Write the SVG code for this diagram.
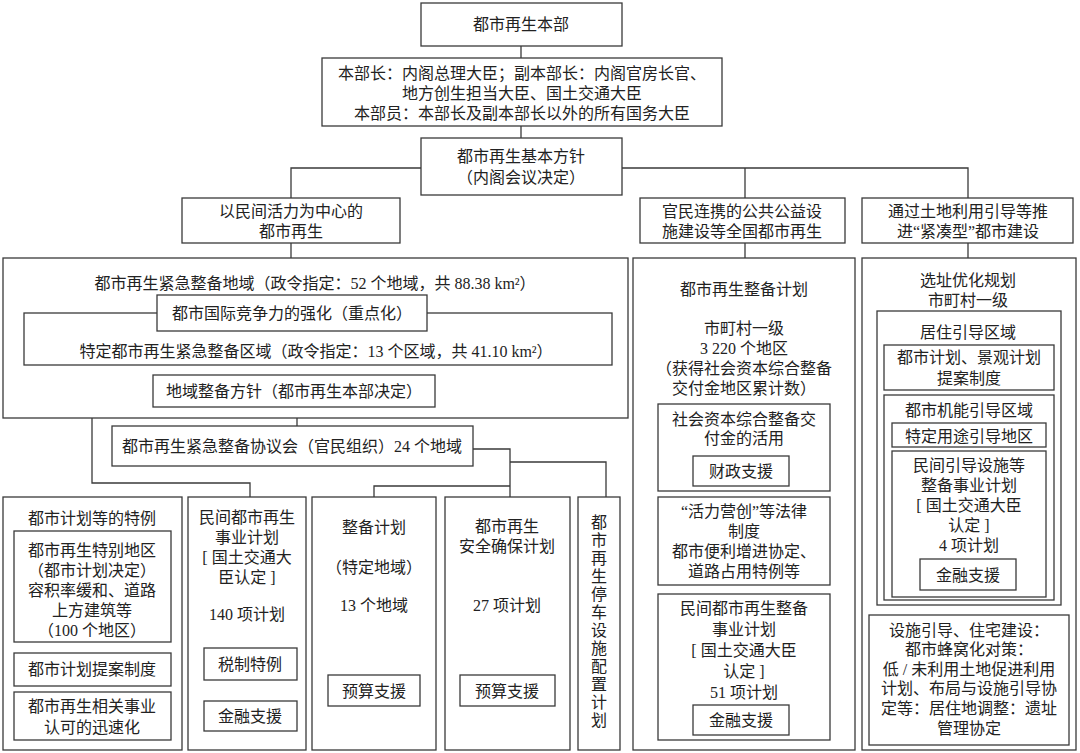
<svg xmlns="http://www.w3.org/2000/svg" width="1080" height="753" viewBox="0 0 1080 753">
<style>
rect{fill:#fff;stroke:#3a3a3a;stroke-width:1.3}
.c line,.c polyline{stroke:#3a3a3a;stroke-width:1.3;fill:none}
text{font-family:"Liberation Serif","Noto Sans CJK SC",serif;font-size:16px;fill:#222;text-anchor:middle}
</style>
<rect x="0" y="0" width="1080" height="753" style="stroke:none"/>
<g class="c" id="connectors">
<line x1="521" y1="46" x2="521" y2="58"/>
<line x1="521" y1="126" x2="521" y2="138"/>
<polyline points="291,198 291,168 421,168"/>
<polyline points="622,168 968,168 968,198"/>
<line x1="745" y1="168" x2="745" y2="198"/>
<line x1="291" y1="243" x2="291" y2="258"/>
<line x1="745" y1="243" x2="745" y2="258"/>
<line x1="968" y1="243" x2="968" y2="258"/>
<line x1="297" y1="407" x2="297" y2="426"/>
<polyline points="92,418 92,483 250,483 250,497"/>
<polyline points="473,449 510,449 510,497"/>
<polyline points="374,497 374,486 510,486"/>
<polyline points="510,462 606,462 606,497"/>
</g>
<g id="n1"><rect x="421" y="3" width="201" height="43"/><text x="521" y="30">都市再生本部</text></g>
<g id="n2"><rect x="322" y="58" width="400" height="68"/>
<text x="522" y="79">本部长：内阁总理大臣；副本部长：内阁官房长官、</text>
<text x="522" y="99">地方创生担当大臣、国土交通大臣</text>
<text x="522" y="119">本部员：本部长及副本部长以外的所有国务大臣</text></g>
<g id="n3"><rect x="421" y="138" width="201" height="57"/><text x="521" y="162">都市再生基本方针</text><text x="521" y="183">（内阁会议决定）</text></g>
<g id="n4"><rect x="182" y="198" width="218" height="45"/><text x="291" y="217">以民间活力为中心的</text><text x="291" y="237">都市再生</text></g>
<g id="n5"><rect x="640" y="198" width="205" height="45"/><text x="742" y="217">官民连携的公共公益设</text><text x="742" y="237">施建设等全国都市再生</text></g>
<g id="n6"><rect x="862" y="198" width="211" height="45"/><text x="968" y="217">通过土地利用引导等推</text><text x="968" y="237">进“紧凑型”都市建设</text></g>

<g id="n7"><rect x="3" y="258" width="625" height="160"/>
<text x="315" y="289">都市再生紧急整备地域（政令指定：52 个地域，共 88.38 km²）</text>
<rect x="24" y="313" width="588" height="52"/>
<rect x="157" y="295" width="270" height="36"/>
<text x="292" y="319">都市国际竞争力的强化（重点化）</text>
<text x="316" y="357">特定都市再生紧急整备区域（政令指定：13 个区域，共 41.10 km²）</text>
<rect x="153" y="375" width="282" height="32"/>
<text x="294" y="397">地域整备方针（都市再生本部决定）</text></g>
<g id="n8"><rect x="112" y="426" width="361" height="40"/><text x="292" y="452">都市再生紧急整备协议会（官民组织）24 个地域</text></g>

<g id="n9"><rect x="3" y="497" width="179" height="253"/>
<text x="92" y="524">都市计划等的特例</text>
<rect x="14" y="531" width="157" height="111"/>
<text x="92" y="556">都市再生特别地区</text><text x="92" y="576">（都市计划决定）</text><text x="92" y="596">容积率缓和、道路</text><text x="92" y="616">上方建筑等</text><text x="92" y="636">（100 个地区）</text>
<rect x="14" y="653" width="157" height="33"/><text x="92" y="675">都市计划提案制度</text>
<rect x="14" y="692" width="157" height="48"/><text x="92" y="712">都市再生相关事业</text><text x="92" y="733">认可的迅速化</text></g>
<g id="n10"><rect x="188" y="497" width="118" height="253"/>
<text x="247" y="523">民间都市再生</text><text x="247" y="543">事业计划</text><text x="247" y="563">[ 国土交通大</text><text x="247" y="583">臣认定 ]</text><text x="247" y="620">140 项计划</text>
<rect x="204" y="648" width="93" height="32"/><text x="250" y="670">税制特例</text>
<rect x="204" y="701" width="93" height="30"/><text x="250" y="722">金融支援</text></g>
<g id="n11"><rect x="312" y="497" width="124" height="253"/>
<text x="374" y="533">整备计划</text><text x="374" y="573">（特定地域）</text><text x="374" y="611">13 个地域</text>
<rect x="328" y="675" width="92" height="31"/><text x="374" y="697">预算支援</text></g>
<g id="n12"><rect x="445" y="497" width="125" height="253"/>
<text x="507" y="532">都市再生</text><text x="507" y="552">安全确保计划</text><text x="507" y="611">27 项计划</text>
<rect x="460" y="675" width="95" height="31"/><text x="507" y="697">预算支援</text></g>
<g id="n13"><rect x="578" y="497" width="42" height="253"/>
<text x="599" y="528">都</text><text x="599" y="546">市</text><text x="599" y="564">再</text><text x="599" y="582">生</text><text x="599" y="600">停</text><text x="599" y="618">车</text><text x="599" y="636">设</text><text x="599" y="654">施</text><text x="599" y="672">配</text><text x="599" y="690">置</text><text x="599" y="708">计</text><text x="599" y="726">划</text></g>

<g id="n14"><rect x="633" y="258" width="222" height="492"/>
<text x="744" y="295">都市再生整备计划</text>
<text x="744" y="334">市町村一级</text><text x="744" y="354">3 220 个地区</text><text x="744" y="374">（获得社会资本综合整备</text><text x="744" y="394">交付金地区累计数）</text>
<rect x="658" y="404" width="172" height="87"/>
<text x="744" y="425">社会资本综合整备交</text><text x="744" y="444">付金的活用</text>
<rect x="693" y="456" width="96" height="30"/><text x="741" y="477">财政支援</text>
<rect x="658" y="497" width="172" height="88"/>
<text x="744" y="517">“活力营创”等法律</text><text x="744" y="537">制度</text><text x="744" y="557">都市便利增进协定、</text><text x="744" y="577">道路占用特例等</text>
<rect x="658" y="594" width="172" height="146"/>
<text x="744" y="614">民间都市再生整备</text><text x="744" y="635">事业计划</text><text x="744" y="656">[ 国土交通大臣</text><text x="744" y="677">认定 ]</text><text x="744" y="698">51 项计划</text>
<rect x="693" y="705" width="96" height="30"/><text x="741" y="726">金融支援</text></g>

<g id="n15"><rect x="862" y="258" width="214" height="492"/>
<text x="968" y="286">选址优化规划</text><text x="968" y="306">市町村一级</text>
<rect x="877" y="311" width="184" height="294"/>
<text x="968" y="338">居住引导区域</text>
<rect x="884" y="345" width="170" height="45"/><text x="969" y="363">都市计划、景观计划</text><text x="969" y="384">提案制度</text>
<rect x="884" y="395" width="170" height="205"/>
<text x="969" y="416">都市机能引导区域</text>
<rect x="892" y="423" width="154" height="24"/><text x="969" y="442">特定用途引导地区</text>
<rect x="892" y="451" width="154" height="146"/>
<text x="969" y="471">民间引导设施等</text><text x="969" y="491">整备事业计划</text><text x="969" y="511">[ 国土交通大臣</text><text x="969" y="531">认定 ]</text><text x="969" y="551">4 项计划</text>
<rect x="920" y="559" width="96" height="31"/><text x="968" y="581">金融支援</text>
<rect x="869" y="615" width="200" height="130"/>
<text x="969" y="636">设施引导、住宅建设：</text><text x="969" y="655">都市蜂窝化对策：</text><text x="969" y="675">低 / 未利用土地促进利用</text><text x="969" y="694">计划、布局与设施引导协</text><text x="969" y="714">定等：居住地调整：遗址</text><text x="969" y="734">管理协定</text></g>
</svg>
